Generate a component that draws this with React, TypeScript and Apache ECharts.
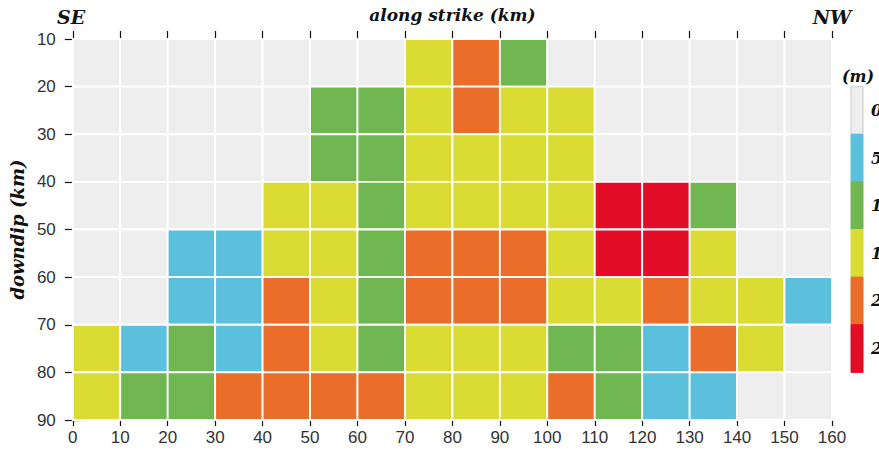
import React, { useEffect, useRef } from "react";
import * as echarts from "echarts";

// cell left edges along strike (km)
const alongStrike = [0, 10, 20, 30, 40, 50, 60, 70, 80, 90, 100, 110, 120, 130, 140, 150];
// cell top edges downdip (km)
const downdip = [10, 20, 30, 40, 50, 60, 70, 80];
// slip (m) per row (downdip) and column (along strike)
const slip10 = [0, 0, 0, 0, 0, 0, 0, 15, 20, 10, 0, 0, 0, 0, 0, 0];
const slip20 = [0, 0, 0, 0, 0, 10, 10, 15, 20, 15, 15, 0, 0, 0, 0, 0];
const slip30 = [0, 0, 0, 0, 0, 10, 10, 15, 15, 15, 15, 0, 0, 0, 0, 0];
const slip40 = [0, 0, 0, 0, 15, 15, 10, 15, 15, 15, 15, 25, 25, 10, 0, 0];
const slip50 = [0, 0, 5, 5, 15, 15, 10, 20, 20, 20, 15, 25, 25, 15, 0, 0];
const slip60 = [0, 0, 5, 5, 20, 15, 10, 20, 20, 20, 15, 15, 20, 15, 15, 5];
const slip70 = [15, 5, 10, 5, 20, 15, 10, 15, 15, 15, 10, 10, 5, 20, 15, 0];
const slip80 = [15, 10, 10, 20, 20, 20, 20, 15, 15, 15, 20, 10, 5, 5, 0, 0];
const slipRows = [slip10, slip20, slip30, slip40, slip50, slip60, slip70, slip80];

// colour scale bins (m) and labels
const slipLevels = [0, 5, 10, 15, 20, 25];
const levelLabels = ["0", "5", "10", "15", "20", "25"];
const palette = ["#eeeeee", "#5bc0dc", "#70b651", "#dbdc33", "#eb6d2a", "#e30d27"];

const xTicks = [0, 160, 10];
const yTicks = [10, 90, 10];

export default function App() {
  const ref = useRef<HTMLDivElement>(null);
  useEffect(() => {
    if (!ref.current) return;
    const chart = echarts.init(ref.current, null, { renderer: "svg" });
    const data: number[][] = [];
    downdip.forEach((d, r) => {
      alongStrike.forEach((s, c) => {
        data.push([s, d, slipRows[r][c]]);
      });
    });
    const serifBI = "'DejaVu Serif', serif";
    const tickFont = "'Liberation Sans Narrow', 'Liberation Sans', sans-serif";
    const axisLine = { show: true, lineStyle: { color: "#111", width: 1.6 } };
    const gridLeft = 71, gridTop = 39, gridRight = 832, gridBottom = 420;
    const rowH = (gridBottom - gridTop) / 8;
    const legendItems: any[] = [];
    slipLevels.forEach((lv, i) => {
      const y0 = gridTop + rowH * (i + 1);
      legendItems.push({
        type: "rect",
        shape: { x: 851, y: y0, width: 12, height: rowH },
        style: { fill: palette[i], stroke: i === 0 ? "#cccccc" : palette[i], lineWidth: 1 },
      });
      legendItems.push({
        type: "text",
        x: 871,
        y: y0 + rowH / 2,
        style: {
          text: levelLabels[i],
          font: `bold italic 16px ${serifBI}`,
          fill: "#111",
          verticalAlign: "middle",
          align: "left",
        },
      });
    });
    chart.setOption({
      animation: false,
      backgroundColor: "#ffffff",
      grid: { left: gridLeft, top: gridTop, right: 879 - gridRight, bottom: 454 - gridBottom, containLabel: false },
      xAxis: [
        {
          type: "value",
          position: "bottom",
          min: xTicks[0],
          max: xTicks[1],
          interval: xTicks[2],
          axisLine,
          axisTick: { show: true, length: 6, lineStyle: { color: "#111", width: 1.2 } },
          axisLabel: { color: "#333", fontSize: 17, fontFamily: tickFont, margin: 9 },
          splitLine: { show: false },
        },
        {
          type: "value",
          position: "top",
          min: xTicks[0],
          max: xTicks[1],
          interval: xTicks[2],
          name: "along strike (km)",
          nameLocation: "middle",
          nameGap: 16,
          nameTextStyle: { fontFamily: serifBI, fontStyle: "italic", fontWeight: "bold", fontSize: 17, color: "#111" },
          axisLine,
          axisTick: { show: true, length: 8, lineStyle: { color: "#111", width: 1.2 } },
          axisLabel: { show: false },
          splitLine: { show: false },
        },
      ],
      yAxis: [
        {
          type: "value",
          position: "left",
          inverse: true,
          min: yTicks[0],
          max: yTicks[1],
          interval: yTicks[2],
          name: "downdip (km)",
          nameLocation: "middle",
          nameGap: 44,
          nameTextStyle: { fontFamily: serifBI, fontStyle: "italic", fontWeight: "bold", fontSize: 18, color: "#111" },
          axisLine,
          axisTick: { show: true, length: 8, lineStyle: { color: "#111", width: 1.2 } },
          axisLabel: { color: "#333", fontSize: 17, fontFamily: tickFont, margin: 17 },
          splitLine: { show: false },
        },
        {
          type: "value",
          position: "right",
          inverse: true,
          min: yTicks[0],
          max: yTicks[1],
          interval: yTicks[2],
          axisLine,
          axisTick: { show: true, length: 9, lineStyle: { color: "#111", width: 1.2 } },
          axisLabel: { show: false },
          splitLine: { show: false },
        },
      ],
      series: [
        {
          type: "custom",
          xAxisIndex: 0,
          yAxisIndex: 0,
          data,
          encode: { x: 0, y: 1 },
          renderItem: (params: any, api: any) => {
            const x = api.value(0);
            const y = api.value(1);
            const v = api.value(2);
            const p0 = api.coord([x, y]);
            const p1 = api.coord([x + 10, y + 10]);
            const idx = slipLevels.indexOf(v);
            return {
              type: "rect",
              shape: {
                x: Math.min(p0[0], p1[0]),
                y: Math.min(p0[1], p1[1]),
                width: Math.abs(p1[0] - p0[0]),
                height: Math.abs(p1[1] - p0[1]),
              },
              style: { fill: palette[idx < 0 ? 0 : idx], stroke: "#ffffff", lineWidth: 1.8 },
            };
          },
          z: 1,
        },
      ],
      graphic: [
        {
          type: "text",
          x: gridLeft,
          y: 17,
          style: { text: "SE", font: `bold italic 19px ${serifBI}`, fill: "#111", align: "center", verticalAlign: "middle" },
        },
        {
          type: "text",
          x: gridRight,
          y: 17,
          style: { text: "NW", font: `bold italic 19px ${serifBI}`, fill: "#111", align: "center", verticalAlign: "middle" },
        },
        {
          type: "text",
          x: 858,
          y: 76,
          style: { text: "(m)", font: `bold italic 16px ${serifBI}`, fill: "#111", align: "center", verticalAlign: "middle" },
        },
        ...legendItems,
      ],
    });
    return () => chart.dispose();
  }, []);
  return <div ref={ref} style={{ width: 879, height: 454, position: "absolute", left: 0, top: 0 }} />;
}
